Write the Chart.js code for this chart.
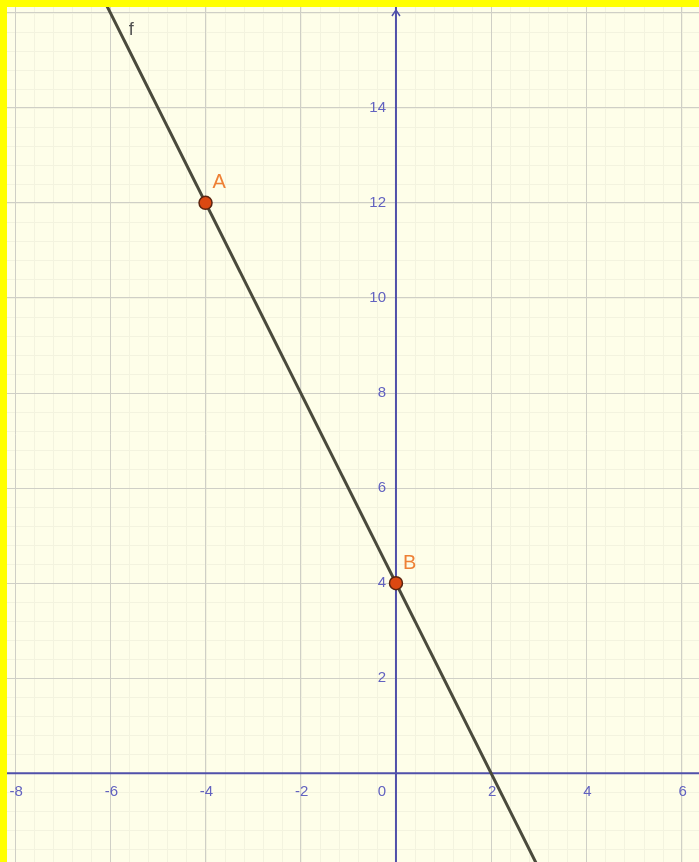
<!DOCTYPE html>
<html>
<head>
<meta charset="utf-8">
<script src="https://cdn.jsdelivr.net/npm/chart.js@4/dist/chart.umd.min.js"></script>
<style>
  html, body { margin: 0; padding: 0; background: #ffff00; }
  #wrap { position: absolute; left: 7px; top: 7px; width: 692px; height: 855px; }
</style>
</head>
<body>
<div id="wrap"><canvas id="graph"></canvas></div>
<script>
// view window (units)
const xRange = [-8.17, 6.365];
const yRange = [-1.865, 16.12];

// tick labels
const xTicks = [-8, -6, -4, -2, 2, 4, 6];
const yTicks = [2, 4, 6, 8, 10, 12, 14];
const majorX = [-8, -6, -4, -2, 0, 2, 4, 6];
const majorY = [0, 2, 4, 6, 8, 10, 12, 14, 16];
const minorStep = 0.4;

// line f (through A and B), end points past the window
const fX = [-7, 3];
const fY = [18, -2];

// points
const pointNames = ['A', 'B'];
const pointX = [-4, 0];
const pointY = [12, 4];

const axisColor = '#5050aa';
const labelColor = '#6262c0';

const paper = {
  id: 'paper',
  beforeDraw(chart) {
    const { ctx, chartArea: a, scales: { x, y } } = chart;
    ctx.save();
    ctx.fillStyle = '#fefee9';
    ctx.fillRect(a.left, a.top, a.right - a.left, a.bottom - a.top);
    ctx.strokeStyle = '#f3f3df';
    ctx.lineWidth = 1;
    ctx.beginPath();
    for (let v = Math.ceil(xRange[0] / minorStep) * minorStep; v <= xRange[1]; v += minorStep) {
      const px = Math.round(x.getPixelForValue(v)) + 0.5;
      ctx.moveTo(px, a.top); ctx.lineTo(px, a.bottom);
    }
    for (let v = Math.ceil(yRange[0] / minorStep) * minorStep; v <= yRange[1]; v += minorStep) {
      const py = Math.round(y.getPixelForValue(v)) + 0.5;
      ctx.moveTo(a.left, py); ctx.lineTo(a.right, py);
    }
    ctx.stroke();
    ctx.restore();
  },
  beforeDatasetsDraw(chart) {
    const { ctx, chartArea: a, scales: { x, y } } = chart;
    const x0 = x.getPixelForValue(0);
    const y0 = y.getPixelForValue(0);
    ctx.save();
    ctx.strokeStyle = axisColor;
    ctx.lineWidth = 2;
    ctx.beginPath();
    ctx.moveTo(a.left, y0); ctx.lineTo(a.right, y0);
    ctx.moveTo(x0, a.bottom); ctx.lineTo(x0, a.top);
    ctx.stroke();
    // arrow head on y axis
    ctx.lineWidth = 1.5;
    ctx.beginPath();
    ctx.moveTo(x0 - 4, a.top + 9);
    ctx.lineTo(x0, a.top + 3);
    ctx.lineTo(x0 + 4, a.top + 9);
    ctx.stroke();

    ctx.fillStyle = labelColor;
    ctx.font = '15px "Liberation Sans", Arial, sans-serif';
    ctx.textBaseline = 'middle';
    ctx.textAlign = 'center';
    xTicks.forEach(v => ctx.fillText(v < 0 ? '-' + Math.abs(v) : String(v), x.getPixelForValue(v) + 1, y0 + 19));
    ctx.textAlign = 'right';
    ctx.fillText('0', x0 - 10, y0 + 19);
    yTicks.forEach(v => ctx.fillText(String(v), x0 - 10, y.getPixelForValue(v)));
    ctx.restore();
  },
  afterDatasetsDraw(chart) {
    const { ctx, scales: { x, y } } = chart;
    ctx.save();
    ctx.font = '20px "Liberation Sans", Arial, sans-serif';
    ctx.textBaseline = 'middle';
    ctx.textAlign = 'left';
    ctx.fillStyle = '#ee8035';
    pointNames.forEach((n, i) => {
      ctx.fillText(n, x.getPixelForValue(pointX[i]) + 7, y.getPixelForValue(pointY[i]) - 20);
    });
    ctx.fillStyle = '#505050';
    ctx.font = '18px "Liberation Sans", Arial, sans-serif';
    ctx.fillText('f', x.getPixelForValue(fX[0]) + 66, 23);
    ctx.restore();
  }
};

new Chart(document.getElementById('graph'), {
  type: 'scatter',
  data: {
    datasets: [
      {
        label: 'f',
        data: fX.map((v, i) => ({ x: v, y: fY[i] })),
        showLine: true,
        borderColor: '#4a4a3c',
        borderWidth: 3,
        pointRadius: 0,
        order: 2
      },
      {
        label: 'points',
        data: pointX.map((v, i) => ({ x: v, y: pointY[i] })),
        backgroundColor: '#dc4812',
        borderColor: '#5a2410',
        borderWidth: 1.5,
        pointRadius: 6.5,
        pointHoverRadius: 6.5,
        order: 1
      }
    ]
  },
  options: {
    responsive: true,
    maintainAspectRatio: false,
    animation: false,
    events: [],
    layout: { padding: 0, autoPadding: false },
    plugins: { legend: { display: false }, tooltip: { enabled: false } },
    scales: {
      x: {
        type: 'linear',
        min: xRange[0],
        max: xRange[1],
        afterBuildTicks: s => { s.ticks = majorX.map(v => ({ value: v })); },
        ticks: { display: false },
        grid: { color: '#cfcfc6', lineWidth: 1, drawTicks: false },
        border: { display: false }
      },
      y: {
        type: 'linear',
        min: yRange[0],
        max: yRange[1],
        afterBuildTicks: s => { s.ticks = majorY.map(v => ({ value: v })); },
        ticks: { display: false },
        grid: { color: '#cfcfc6', lineWidth: 1, drawTicks: false },
        border: { display: false }
      }
    }
  },
  plugins: [paper]
});
</script>
</body>
</html>
